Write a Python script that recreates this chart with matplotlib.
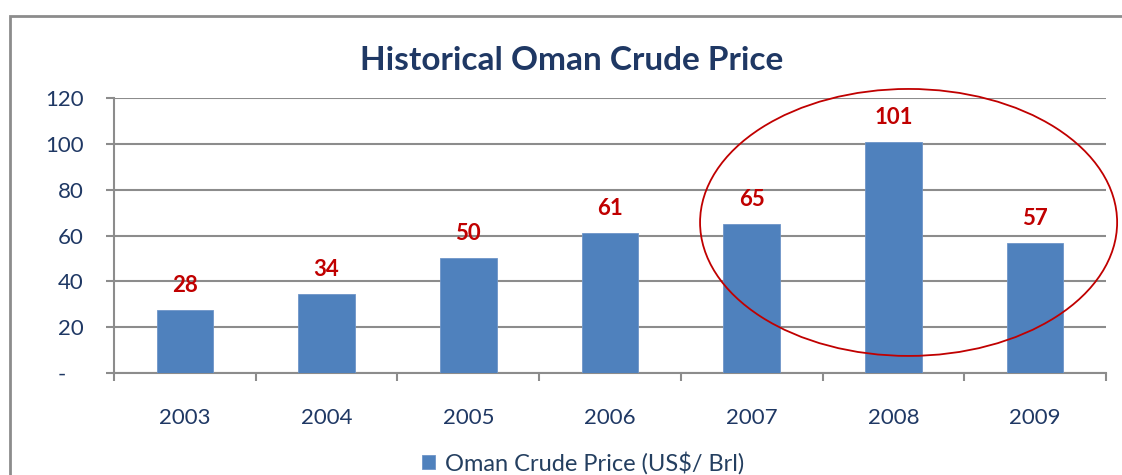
import matplotlib
matplotlib.use("Agg")
import matplotlib.pyplot as plt
from matplotlib.patches import Ellipse, Rectangle

years = ["2003", "2004", "2005", "2006", "2007", "2008", "2009"]
prices = [27.6, 34.4, 50.2, 61.2, 65.2, 100.8, 56.6]
yticks = [0, 20, 40, 60, 80, 100, 120]
ytick_labels = ["-   ", "20", "40", "60", "80", "100", "120"]
title = "Historical Oman Crude Price"
legend_label = "Oman Crude Price (US$/ Brl)"

plt.rcParams['font.family'] = ['Lato', 'DejaVu Sans']

navy = "#1F3864"
bar_color = "#4F81BD"
red = "#C00000"
grid_gray = "#8C8C8C"

fig = plt.figure(figsize=(11.22, 4.75), dpi=100)
ax = fig.add_axes([114/1122, 1-373/475, (1106-114)/1122, (373-98)/475])

x = list(range(len(years)))
bars = ax.bar(x, prices, width=0.40, color=bar_color, edgecolor="#6E95C8", linewidth=0.6, zorder=3,
              label=legend_label)

for xi, v in zip(x, prices):
    ax.annotate(f"{v:.0f}", (xi, v), xytext=(0, 10), textcoords="offset points",
                ha="center", va="bottom", color=red, fontsize=16, fontweight="bold")

ax.set_xlim(-0.5, len(years) - 0.5)
ax.set_ylim(0, 120)
ax.set_yticks(yticks)
ax.set_yticklabels(ytick_labels)
ax.yaxis.grid(True, color=grid_gray, linewidth=1.5, zorder=0)
ax.set_axisbelow(True)

ax.set_xticks(x)
ax.set_xticklabels(years)
ax.set_xticks([i - 0.5 for i in range(len(years) + 1)], minor=True)
ax.tick_params(axis="x", which="major", length=0, pad=25, labelsize=16, labelcolor=navy)
ax.tick_params(axis="x", which="minor", length=6, width=1.5, color=grid_gray, direction="out")
ax.tick_params(axis="y", length=6, width=1.5, color=grid_gray, pad=16, labelsize=16, labelcolor=navy)

for s in ["top", "right"]:
    ax.spines[s].set_visible(False)
for s in ["left", "bottom"]:
    ax.spines[s].set_color(grid_gray)
    ax.spines[s].set_linewidth(1.5)

ell = Ellipse((5.107, 65.7), 2.943, 116.5, fill=False, edgecolor=red, linewidth=1.3, zorder=5,
              clip_on=False)
ax.add_patch(ell)

fig.text(572/1122, 1-60/475, title, ha="center", va="center", fontsize=24, fontweight="bold", color=navy)

# outer frame
fig.patches.append(Rectangle((10/1122, -0.1), 1.2, 1-16/475 + 0.1, transform=fig.transFigure,
                             fill=False, edgecolor="#8C8C8C", linewidth=2))

leg = fig.legend(handles=[bars], labels=[legend_label], loc="center", bbox_to_anchor=(583/1122, 1-463/475),
                 frameon=False, fontsize=17, handlelength=0.55, handleheight=0.55, handletextpad=0.45,
                 borderaxespad=0)
for t in leg.get_texts():
    t.set_color("#243F60")

fig.savefig("out.png", dpi=100)
